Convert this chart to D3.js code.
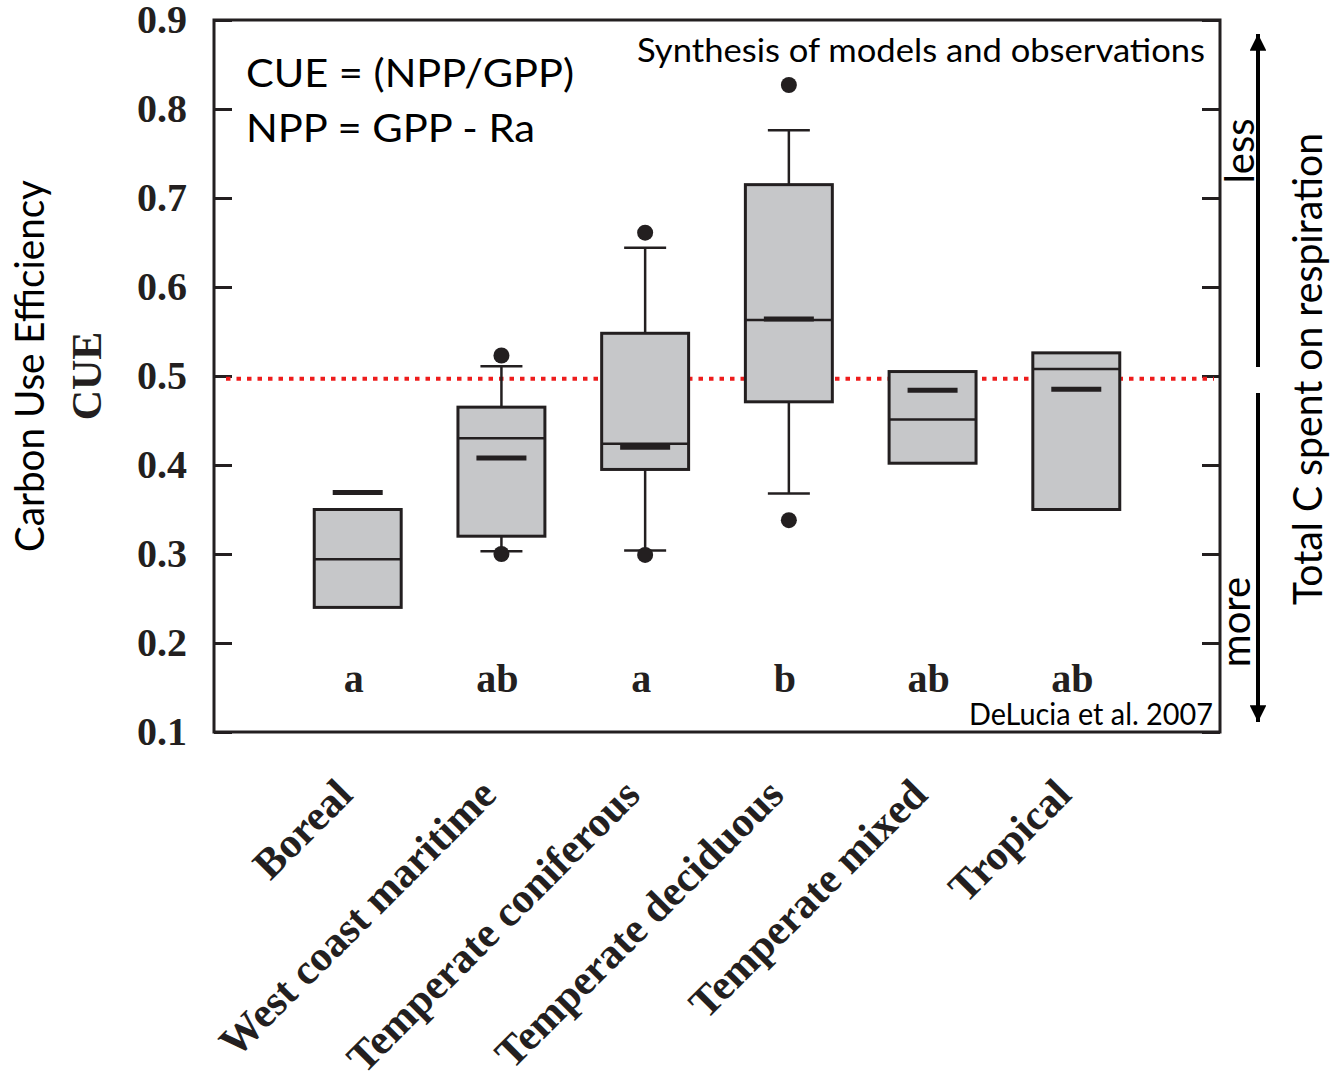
<!DOCTYPE html>
<html>
<head>
<meta charset="utf-8">
<script src="https://cdn.jsdelivr.net/npm/d3@7"></script>
<style>
  body { margin: 0; background: #fff; }
  svg { display: block; }
</style>
</head>
<body>
<div id="chart"></div>
<script>
// biome categories
const categories = ["Boreal", "West coast maritime", "Temperate coniferous", "Temperate deciduous", "Temperate mixed", "Tropical"];
// box statistics (CUE)
const q1 = [0.240, 0.320, 0.395, 0.471, 0.402, 0.350];
const medians = [0.294, 0.430, 0.424, 0.563, 0.451, 0.508];
const q3 = [0.350, 0.465, 0.548, 0.715, 0.505, 0.526];
const means = [0.369, 0.408, 0.420, 0.564, 0.484, 0.485];
const whiskerLow = [null, 0.303, 0.304, 0.368, null, null];
const whiskerHigh = [null, 0.511, 0.644, 0.776, null, null];
const outlierLow = [null, 0.300, 0.299, 0.338, null, null];
const outlierHigh = [null, 0.523, 0.661, 0.827, null, null];
const groupLetters = ["a", "ab", "a", "b", "ab", "ab"];
const yTicks = [0.1, 0.2, 0.3, 0.4, 0.5, 0.6, 0.7, 0.8, 0.9];
const refLine = 0.497;

const W = 1337, H = 1071;
const mLeft = 214, mRight = 1220, mTop = 20, mBottom = 732;
const ink = "#231f20";
const sans = "Lato, 'Open Sans', sans-serif";
const serif = "'Liberation Serif', 'Times New Roman', serif";

const svg = d3.select("#chart").append("svg")
    .attr("width", W)
    .attr("height", H);

const x = d3.scalePoint().domain(categories).range([mLeft, mRight]).padding(1);
const y = d3.scaleLinear().domain([0.1, 0.9]).range([mBottom, mTop]);
const boxW = x.step() * 0.605;

// axes, ticks point into the plot
const yAxis = svg.append("g")
    .attr("transform", `translate(${mLeft},0)`)
    .call(d3.axisLeft(y).tickValues(yTicks).tickSizeInner(-18).tickSizeOuter(0).tickPadding(27).tickFormat(d3.format(".1f")));
yAxis.select(".domain").remove();
yAxis.selectAll("line").attr("stroke", ink).attr("stroke-width", 3);
yAxis.selectAll("text")
    .attr("font-family", serif)
    .attr("font-weight", "bold")
    .attr("font-size", 40)
    .attr("fill", ink);

const yAxisR = svg.append("g")
    .attr("transform", `translate(${mRight},0)`)
    .call(d3.axisRight(y).tickValues(yTicks).tickSizeInner(-18).tickSizeOuter(0).tickFormat(""));
yAxisR.select(".domain").remove();
yAxisR.selectAll("line").attr("stroke", ink).attr("stroke-width", 3);

// frame
svg.append("rect")
    .attr("x", mLeft).attr("y", mTop)
    .attr("width", mRight - mLeft).attr("height", mBottom - mTop)
    .attr("fill", "none").attr("stroke", ink).attr("stroke-width", 3);

// reference line
svg.append("line")
    .attr("x1", mLeft + 12).attr("x2", mRight - 6)
    .attr("y1", y(refLine)).attr("y2", y(refLine))
    .attr("stroke", "#ee1c1c")
    .attr("stroke-width", 4)
    .attr("stroke-dasharray", "4.5 6");

// boxes
const idx = d3.range(categories.length);
const g = svg.append("g");

idx.forEach(i => {
    const cx = x(categories[i]);
    if (whiskerLow[i] != null) {
        g.append("line").attr("x1", cx).attr("x2", cx)
            .attr("y1", y(q1[i])).attr("y2", y(whiskerLow[i]))
            .attr("stroke", ink).attr("stroke-width", 2.5);
        g.append("line").attr("x1", cx - 21).attr("x2", cx + 21)
            .attr("y1", y(whiskerLow[i])).attr("y2", y(whiskerLow[i]))
            .attr("stroke", ink).attr("stroke-width", 2.5);
    }
    if (whiskerHigh[i] != null) {
        g.append("line").attr("x1", cx).attr("x2", cx)
            .attr("y1", y(q3[i])).attr("y2", y(whiskerHigh[i]))
            .attr("stroke", ink).attr("stroke-width", 2.5);
        g.append("line").attr("x1", cx - 21).attr("x2", cx + 21)
            .attr("y1", y(whiskerHigh[i])).attr("y2", y(whiskerHigh[i]))
            .attr("stroke", ink).attr("stroke-width", 2.5);
    }
    g.append("rect")
        .attr("x", cx - boxW / 2).attr("y", y(q3[i]))
        .attr("width", boxW).attr("height", y(q1[i]) - y(q3[i]))
        .attr("fill", "#c6c7c9").attr("stroke", ink).attr("stroke-width", 3);
    g.append("line").attr("x1", cx - boxW / 2).attr("x2", cx + boxW / 2)
        .attr("y1", y(medians[i])).attr("y2", y(medians[i]))
        .attr("stroke", ink).attr("stroke-width", 2.5);
    g.append("line").attr("x1", cx - 25).attr("x2", cx + 25)
        .attr("y1", y(means[i])).attr("y2", y(means[i]))
        .attr("stroke", ink).attr("stroke-width", 5);
    [outlierLow[i], outlierHigh[i]].forEach(v => {
        if (v != null) {
            g.append("circle").attr("cx", cx).attr("cy", y(v)).attr("r", 8).attr("fill", ink);
        }
    });
    // group letters
    svg.append("text")
        .attr("x", cx - 4).attr("y", 692)
        .attr("text-anchor", "middle")
        .attr("font-family", serif).attr("font-weight", "bold").attr("font-size", 40)
        .attr("fill", ink)
        .text(groupLetters[i]);
});

// x labels rotated
svg.append("g").selectAll("text")
    .data(categories)
    .join("text")
    .attr("transform", d => `translate(${x(d) - 3},${797}) rotate(-45)`)
    .attr("text-anchor", "end")
    .attr("font-family", serif).attr("font-weight", "bold").attr("font-size", 42.5)
    .attr("fill", ink)
    .text(d => d);

// in-plot notes
svg.append("text").attr("x", 246).attr("y", 87)
    .attr("font-family", sans).attr("font-size", 38).attr("fill", "#000")
    .attr("textLength", 328).attr("lengthAdjust", "spacingAndGlyphs")
    .text("CUE = (NPP/GPP)");
svg.append("text").attr("x", 246).attr("y", 142)
    .attr("font-family", sans).attr("font-size", 38).attr("fill", "#000")
    .attr("textLength", 289).attr("lengthAdjust", "spacingAndGlyphs")
    .text("NPP = GPP - Ra");
svg.append("text").attr("x", 637).attr("y", 62)
    .attr("font-family", sans).attr("font-size", 33).attr("fill", "#000")
    .attr("textLength", 568).attr("lengthAdjust", "spacingAndGlyphs")
    .text("Synthesis of models and observations");
svg.append("text").attr("x", 969).attr("y", 725)
    .attr("font-family", sans).attr("font-size", 30).attr("fill", "#000")
    .attr("textLength", 244).attr("lengthAdjust", "spacingAndGlyphs")
    .text("DeLucia et al. 2007");

// y titles
svg.append("text")
    .attr("transform", "translate(44,366) rotate(-90)")
    .attr("text-anchor", "middle")
    .attr("font-family", sans).attr("font-size", 40).attr("fill", "#000")
    .attr("textLength", 372).attr("lengthAdjust", "spacingAndGlyphs")
    .text("Carbon Use Efficiency");
svg.append("text")
    .attr("transform", "translate(101,376) rotate(-90)")
    .attr("text-anchor", "middle")
    .attr("font-family", serif).attr("font-weight", "bold").attr("font-size", 42).attr("fill", ink)
    .text("CUE");
svg.append("text")
    .attr("transform", "translate(1322,369) rotate(-90)")
    .attr("text-anchor", "middle")
    .attr("font-family", sans).attr("font-size", 40).attr("fill", "#000")
    .attr("textLength", 472).attr("lengthAdjust", "spacingAndGlyphs")
    .text("Total C spent on respiration");
svg.append("text")
    .attr("transform", "translate(1254,151) rotate(-90)")
    .attr("text-anchor", "middle")
    .attr("font-family", sans).attr("font-size", 40).attr("fill", "#000")
    .text("less");
svg.append("text")
    .attr("transform", "translate(1250,622) rotate(-90)")
    .attr("text-anchor", "middle")
    .attr("font-family", sans).attr("font-size", 40).attr("fill", "#000")
    .text("more");

// arrows
const defs = svg.append("defs");
defs.append("marker")
    .attr("id", "head")
    .attr("viewBox", "0 0 10 10")
    .attr("refX", 10).attr("refY", 5)
    .attr("markerWidth", 4.2).attr("markerHeight", 4.2)
    .attr("markerUnits", "strokeWidth")
    .attr("orient", "auto")
    .append("path").attr("d", "M0,0 L10,5 L0,10 Z").attr("fill", "#000");

svg.append("line")
    .attr("x1", 1258).attr("x2", 1258).attr("y1", 367).attr("y2", 34)
    .attr("stroke", "#000").attr("stroke-width", 4).attr("marker-end", "url(#head)");
svg.append("line")
    .attr("x1", 1258).attr("x2", 1258).attr("y1", 393).attr("y2", 722)
    .attr("stroke", "#000").attr("stroke-width", 4).attr("marker-end", "url(#head)");
</script>
</body>
</html>
